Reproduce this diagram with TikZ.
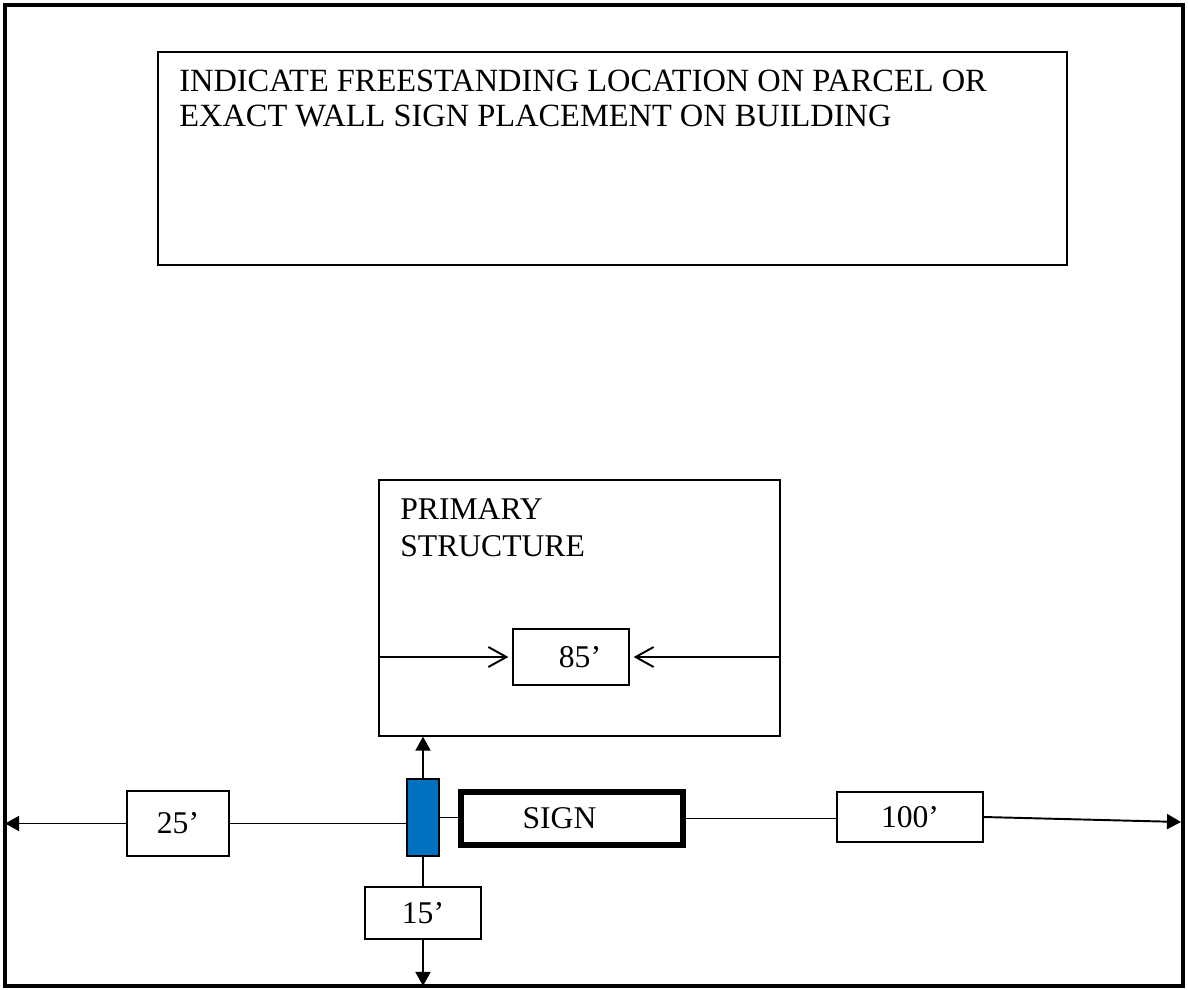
\documentclass[tikz,border=0pt]{standalone}
\usepackage{fontspec}
\setmainfont{Liberation Serif}
\usetikzlibrary{arrows.meta, positioning}

\definecolor{postblue}{HTML}{0070C0}

\begin{document}
\begin{tikzpicture}[
	x = 0.02cm, y = -0.02cm,
	font = \fontsize{18}{21}\selectfont,
	parcel/.style = {rectangle, draw, line width=2.6pt, minimum width=23.56cm, minimum height=19.62cm},
	box/.style = {rectangle, draw, line width=0.75pt, inner sep=0pt},
	signbox/.style = {rectangle, draw, line width=3.4pt, inner sep=0pt, minimum width=4.44cm, minimum height=1.06cm},
	signpost/.style = {rectangle, draw, fill=postblue, line width=0.75pt, minimum width=0.64cm, minimum height=1.54cm},
	notetext/.style = {anchor=north west, inner sep=0pt, align=left},
	line/.style = {draw, line width=0.75pt},
	dimline/.style = {draw, line width=1.1pt, -{Triangle[length=0.28cm, width=0.3cm]}},
	inward/.style = {draw, line width=1.1pt, -{Straight Barb[length=0.36cm, width=0.4cm]}}
	]
	\useasboundingbox (0,0) rectangle (1188,990);
	
	% Nodes
	\node [parcel] (parcel) at (594,495.5) {};
	\node [box, minimum width=18.18cm, minimum height=4.26cm] (request) at (612.5,158.5) {};
	\node [notetext, font=\fontsize{18.45}{19.9}\selectfont] (requesttext) at (179,70) {INDICATE FREESTANDING LOCATION ON PARCEL OR\\EXACT WALL SIGN PLACEMENT ON BUILDING};
	
	% Primary structure
	\node [box, minimum width=8.02cm, minimum height=5.12cm] (building) at (579.5,608) {};
	\node [notetext] (buildingtext) at (400,498) {PRIMARY\\STRUCTURE};
	\node [box, minimum width=2.32cm, minimum height=1.12cm] (width85) at (571,657) {\hspace{0.36cm}85'};
	
	% Sign row
	\node [signpost] (post) at (423,817.5) {};
	\node [signbox] (sign) at (572,818.5) {SIGN\kern0.5cm};
	\node [box, minimum width=2.04cm, minimum height=1.3cm] (dim25) at (178,823.5) {25'};
	\node [box, minimum width=2.32cm, minimum height=1.04cm] (dim15) at (423,913) {15'};
	\node [box, minimum width=2.92cm, minimum height=1.0cm] (dim100) at (910,817) {100'};
	\coordinate (eastend) at (1181,822);
	
	% Lines
	\path [inward, shorten >=0.08cm] (building.west |- width85) -- (width85.west);
	\path [inward, shorten >=0.08cm] (building.east |- width85) -- (width85.east);
	\path [dimline] (post.north) -- (post.north |- building.south);
	\path [line] (post.south) -- (dim15.north);
	\path [dimline, shorten >=1.3pt] (dim15.south) -- (dim15.south |- parcel.south);
	\path [line] (dim25.east) -- (dim25.east -| post.west);
	\path [dimline, shorten >=1.3pt] (dim25.west) -- (dim25.west -| parcel.west);
	\path [line] (post.east) -- (post.east -| sign.west);
	\path [line] (sign.east) -- (sign.east -| dim100.west);
	\path [dimline] (dim100.east) -- (eastend);
\end{tikzpicture}
\end{document}
